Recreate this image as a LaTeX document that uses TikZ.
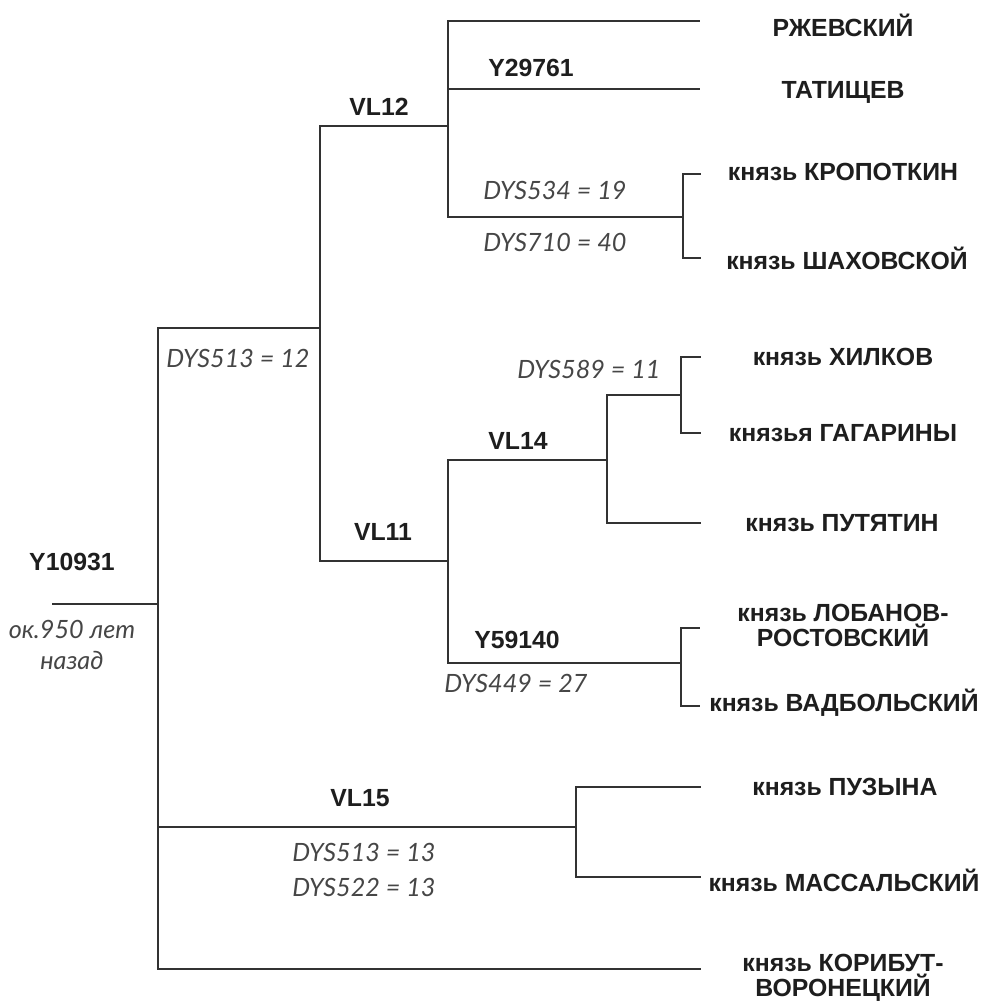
\documentclass[tikz,border=0pt]{standalone}
\usepackage{fontspec}
\setmainfont{Liberation Sans}
\newfontfamily\dysfont{Lato}
\usepackage{xcolor}
\usetikzlibrary{
    positioning,
    calc
}
\definecolor{lineC}{RGB}{50,50,50}
\definecolor{cladeC}{RGB}{30,30,30}
\definecolor{dysC} {RGB}{70,70,70}
\tikzset{
  clade/.style  = {font=\bfseries\fontsize{12.4}{13}\selectfont, text=cladeC,
                   inner sep=1pt},
  leaf/.style   = {font=\bfseries\fontsize{12.4}{12.5}\selectfont, text=cladeC,
                   align=center, inner sep=1pt},
  snp/.style    = {font=\dysfont\itshape\fontsize{12.6}{15.5}\selectfont,
                   text=dysC, align=center, inner sep=1pt},
  branch/.style = {draw=lineC, line width=1pt}
}

\begin{document}
\begin{tikzpicture}[x=0.5pt, y=-0.5pt]

  \useasboundingbox (0,0) rectangle (984,1007);

  %% ── Junctions ─────────────────────────────────────────────────
  \coordinate (root)  at ( 52,604);
  \coordinate (y109)  at (158,604);
  \coordinate (split) at (320,328);
  \coordinate (vl12)  at (448,126);
  \coordinate (vl11)  at (448,561);
  \coordinate (kro)   at (683,217);
  \coordinate (vl14)  at (607,460);
  \coordinate (d589)  at (681,395);
  \coordinate (y591)  at (681,663);
  \coordinate (vl15)  at (576,827);

  %% ── Leaf ends ─────────────────────────────────────────────────
  \coordinate (rzhE)  at (700, 21);
  \coordinate (tatE)  at (700, 89);
  \coordinate (kroE)  at (701,174);
  \coordinate (shaE)  at (701,258);
  \coordinate (hilE)  at (701,357);
  \coordinate (gagE)  at (701,433);
  \coordinate (putE)  at (701,523);
  \coordinate (lobE)  at (700,628);
  \coordinate (vadE)  at (700,706);
  \coordinate (puzE)  at (701,787);
  \coordinate (masE)  at (701,877);
  \coordinate (korE)  at (701,969);

  %% ── Branches ──────────────────────────────────────────────────
  \draw[branch] (root) -- (y109);
  \draw[branch] (y109) |- (split);
  \draw[branch] (y109) |- (vl15);
  \draw[branch] (y109) |- (korE);
  % VL12 / VL11
  \draw[branch] (split) |- (vl12);
  \draw[branch] (split) |- (vl11);
  \draw[branch] (vl12) |- (rzhE);
  \draw[branch] (vl12) |- (tatE);
  \draw[branch] (vl12) |- (kro);
  \draw[branch] (kro)  |- (kroE);
  \draw[branch] (kro)  |- (shaE);
  \draw[branch] (vl11) |- (vl14);
  \draw[branch] (vl11) |- (y591);
  \draw[branch] (vl14) |- (d589);
  \draw[branch] (d589) |- (hilE);
  \draw[branch] (d589) |- (gagE);
  \draw[branch] (vl14) |- (putE);
  \draw[branch] (y591) |- (lobE);
  \draw[branch] (y591) |- (vadE);
  % VL15
  \draw[branch] (vl15) |- (puzE);
  \draw[branch] (vl15) |- (masE);

  %% ── Clade labels ──────────────────────────────────────────────
  \node[clade] (lY109) at ( 72,562) {Y10931};
  \node[clade] (lVL12) at (379,107) {VL12};
  \node[clade] (lY297) at (531, 68) {Y29761};
  \node[clade] (lVL11) at (383,532) {VL11};
  \node[clade] (lVL14) at (518,441) {VL14};
  \node[clade] (lY591) at (517,640) {Y59140};
  \node[clade] (lVL15) at (360,798) {VL15};

  %% ── STR labels ────────────────────────────────────────────────
  \node[snp] (age)   at ( 72,645) {ок.950 лет\\назад};
  \node[snp] (s513a) at (238,358) {DYS513 = 12};
  \node[snp] (s534)  at (555,190) {DYS534 = 19};
  \node[snp] (s710)  at (555,242) {DYS710 = 40};
  \node[snp] (s589)  at (589,369) {DYS589 = 11};
  \node[snp] (s449)  at (516,683) {DYS449 = 27};
  \node[snp] (s513b) at (364,852) {DYS513 = 13};
  \node[snp] (s522)  at (364,887) {DYS522 = 13};

  %% ── Leaves ────────────────────────────────────────────────────
  \node[leaf] (rzh) at (843, 25) {РЖЕВСКИЙ};
  \node[leaf] (tat) at (843, 92) {ТАТИЩЕВ};
  \node[leaf] (krp) at (843,172) {князь КРОПОТКИН};
  \node[leaf] (sha) at (847,258) {князь ШАХОВСКОЙ};
  \node[leaf] (hil) at (843,357) {князь ХИЛКОВ};
  \node[leaf] (gag) at (843,433) {князья ГАГАРИНЫ};
  \node[leaf] (put) at (842,523) {князь ПУТЯТИН};
  \node[leaf] (lob) at (843,625) {князь ЛОБАНОВ-\\РОСТОВСКИЙ};
  \node[leaf] (vad) at (844,703) {князь ВАДБОЛЬСКИЙ};
  \node[leaf] (puz) at (845,787) {князь ПУЗЫНА};
  \node[leaf] (mas) at (844,880) {князь МАССАЛЬСКИЙ};
  \node[leaf] (kor) at (843,978) {князь КОРИБУТ-\\ВОРОНЕЦКИЙ};

\end{tikzpicture}
\end{document}
